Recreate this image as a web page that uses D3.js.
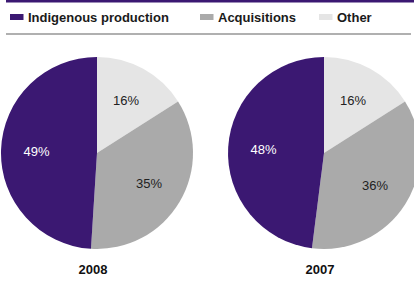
<!DOCTYPE html>
<html>
<head>
<meta charset="utf-8">
<script src="https://cdn.jsdelivr.net/npm/d3@7"></script>
<style>
body{margin:0;background:#fff;}
svg{display:block;font-family:"Liberation Sans",Arial,sans-serif;}
</style>
</head>
<body>
<div id="chart"></div>
<script>
(function(){

const width = 414;
const height = 287;

// data
const categories = ["Other","Acquisitions","Indigenous production"];
const legendOrder = ["Indigenous production","Acquisitions","Other"];
const years = ["2008","2007"];
const values2008 = [16,35,49];
const values2007 = [16,36,48];
const colors = {"Indigenous production":"#3b1872","Acquisitions":"#aaaaaa","Other":"#e5e5e5"};

const svg = d3.select("#chart")
.append("svg")
.attr("width",width)
.attr("height",height);

// top rule + legend rule
svg.append("rect").attr("x",6).attr("y",0).attr("width",width-6).attr("height",2.5).attr("fill","#3b1872");
svg.append("rect").attr("x",6).attr("y",33).attr("width",width-9).attr("height",2).attr("fill","#b0b0b0");

// legend
const legendX = [10,200,319];
const lg = svg.append("g");
legendOrder.forEach((c,i)=>{
lg.append("rect")
.attr("x",legendX[i]).attr("y",14)
.attr("width",13.5).attr("height",6)
.attr("fill",colors[c]);
lg.append("text")
.attr("x",legendX[i]+18).attr("y",22)
.attr("font-size","13px")
.attr("font-weight","bold")
.attr("fill","#1a1a1a")
.text(c);
});

// pies
const r = 96;
const centers = d3.scaleOrdinal().domain(years).range([97,324]);
const cy = 153;

const pie = d3.pie().sort(null).value(d=>d.value);
const arc = d3.arc().innerRadius(0).outerRadius(r);
const labelArc = d3.arc().innerRadius(r*0.63).outerRadius(r*0.63);

[values2008,values2007].forEach((vals,k)=>{
const data = categories.map((c,i)=>({cat:c,value:vals[i]}));
const g = svg.append("g")
.attr("transform",`translate(${centers(years[k])},${cy})`);

g.selectAll("path")
.data(pie(data))
.join("path")
.attr("d",arc)
.attr("fill",d=>colors[d.data.cat]);

g.selectAll("text.lbl")
.data(pie(data))
.join("text")
.attr("class","lbl")
.attr("transform",d=>`translate(${labelArc.centroid(d)})`)
.attr("text-anchor","middle")
.attr("dy","0.35em")
.attr("font-size","13px")
.attr("fill",d=>d.data.cat==="Indigenous production"?"#fff":"#222")
.text(d=>d.data.value+"%");

svg.append("text")
.attr("x",centers(years[k])-4)
.attr("y",274)
.attr("text-anchor","middle")
.attr("font-size","13px")
.attr("font-weight","bold")
.attr("fill","#111")
.text(years[k]);
});

})();
</script>
</body>
</html>
